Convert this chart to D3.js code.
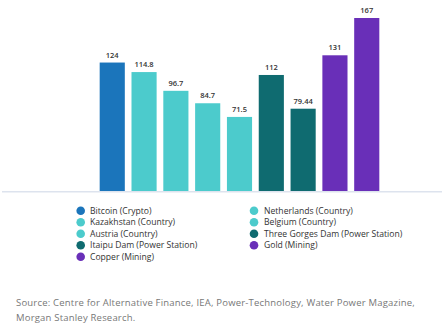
<!DOCTYPE html>
<html>
<head>
<meta charset="utf-8">
<script src="https://cdn.jsdelivr.net/npm/d3@7"></script>
<style>
  body { margin: 0; background: #fff; }
  text { font-family: "Open Sans", "Noto Sans", sans-serif; }
</style>
</head>
<body>
<div id="chart"></div>
<script>
const names = ["Bitcoin (Crypto)", "Kazakhstan (Country)", "Austria (Country)", "Netherlands (Country)",
  "Belgium (Country)", "Itaipu Dam (Power Station)", "Three Gorges Dam (Power Station)", "Copper (Mining)", "Gold (Mining)"];
const values = [124, 114.8, 96.7, 84.7, 71.5, 112, 79.44, 131, 167];
const labels = ["124", "114.8", "96.7", "84.7", "71.5", "112", "79.44", "131", "167"];
const groups = ["crypto", "country", "country", "country", "country", "power", "power", "mining", "mining"];
// legend order: column 1 then column 2
const legendCol1 = [0, 1, 2, 5, 7];
const legendCol2 = [3, 4, 6, 8];

const color = d3.scaleOrdinal()
  .domain(["crypto", "country", "power", "mining"])
  .range(["#1b75bb", "#4ccbcc", "#0f6b70", "#692fb8"]);

const width = 443, height = 327;
const svg = d3.select("#chart").append("svg")
  .attr("width", width).attr("height", height);

const x = d3.scaleBand()
  .domain(d3.range(values.length))
  .range([96.5, 382.5])
  .paddingInner(0.21)
  .paddingOuter(0.1);

const y = d3.scaleLinear().domain([0, 167]).range([191, 18]);

// baseline
svg.append("line")
  .attr("x1", 2).attr("x2", 442)
  .attr("y1", y(0) + 0.7).attr("y2", y(0) + 0.7)
  .attr("stroke", "#dde3ee").attr("stroke-width", 1.5);

svg.selectAll("rect.bar").data(values).enter().append("rect")
  .attr("class", "bar")
  .attr("x", (d, i) => x(i))
  .attr("y", d => y(d))
  .attr("width", x.bandwidth())
  .attr("height", d => y(0) - y(d))
  .attr("fill", (d, i) => color(groups[i]));

svg.selectAll("text.val").data(values).enter().append("text")
  .attr("class", "val")
  .attr("x", (d, i) => x(i) + x.bandwidth() / 2)
  .attr("y", d => y(d) - 5)
  .attr("text-anchor", "middle")
  .attr("font-size", 7.5)
  .attr("font-weight", 600)
  .attr("fill", "#333")
  .text((d, i) => labels[i]);

// legend
function legend(idx, cx, tx) {
  const g = svg.append("g");
  idx.forEach((k, j) => {
    const yy = 210.7 + j * 11.5;
    g.append("circle").attr("cx", cx).attr("cy", yy).attr("r", 4.3)
      .attr("fill", color(groups[k]));
    g.append("text").attr("x", tx).attr("y", yy).attr("dy", "0.35em")
      .attr("font-size", 8.6).attr("fill", "#333").text(names[k]);
  });
}
legend(legendCol1, 80.7, 90);
legend(legendCol2, 254, 264);

// source
const src = svg.append("text").attr("font-size", 9.5).attr("letter-spacing", 0.2).attr("fill", "#777");
src.append("tspan").attr("x", 16).attr("y", 306)
  .text("Source: Centre for Alternative Finance, IEA, Power-Technology, Water Power Magazine,");
src.append("tspan").attr("x", 16).attr("y", 321).text("Morgan Stanley Research.");
</script>
</body>
</html>
